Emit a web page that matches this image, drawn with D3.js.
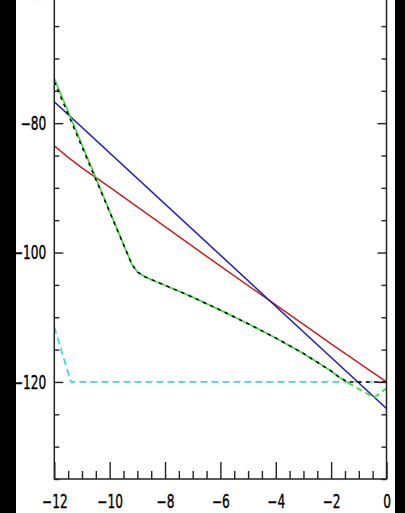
<!DOCTYPE html>
<html>
<head>
<meta charset="utf-8">
<script src="https://cdn.jsdelivr.net/npm/d3@7"></script>
<style>
html,body{margin:0;padding:0;background:#000;}
svg{display:block;}
</style>
</head>
<body>
<svg id="chart" width="405" height="513"></svg>
<script>
// ---- data ----
const xMajorTicks = [-12, -10, -8, -6, -4, -2, 0];
const yMajorTicks = [-60, -80, -100, -120];

const blueX = [-12, 0];
const blueY = [-76.7, -124.1];

const redX = [-12, -11.5, -11, -10, -8, -6, -4, -2, 0];
const redY = [-83.5, -85.3, -86.9, -89.9, -96.0, -102.1, -108.1, -114.1, -120.0];

const greenX = [-12, -9.2, -9.0, -8.7, -8.2, -7, -6, -5, -4, -3, -2, -1.7];
const greenY = [-73.1, -101.8, -103.0, -103.8, -104.7, -106.9, -108.9, -111.0, -113.2, -115.6, -118.3, -119.3];

const greenDashX = [-1.7, -1.2, -0.45, 0];
const greenDashY = [-119.3, -120.6, -122.4, -121.0];

const blackDashX = [-12, -9.2, -9.0, -8.7, -8.2, -7, -6, -5, -4, -3, -2, -1.7, -1.4, 0];
const blackDashY = [-73.6, -101.8, -103.0, -103.8, -104.7, -106.9, -108.9, -111.0, -113.2, -115.6, -118.3, -119.3, -120.0, -120.0];

const cyanX = [-12, -11.4, 0];
const cyanY = [-111.5, -120.0, -120.0];

// ---- layout ----
const svg = d3.select("#chart");
svg.append("rect").attr("x", 16).attr("y", 0).attr("width", 379).attr("height", 513).attr("fill", "#fff");

const left = 54.3, right = 386.5, bottom = 479;
const x = d3.scaleLinear().domain([-12, 0]).range([left, right]);
const y = d3.scaleLinear().domain([-135, -60]).range([bottom, bottom - 75 * 6.47]);

const xMinor = d3.range(-12, 0.001, 0.5).filter(v => !xMajorTicks.includes(v));
const yMinor = d3.range(-135, -59.9, 5).filter(v => !yMajorTicks.includes(v));

const fontFam = "'DejaVu Sans',sans-serif";
const fmt = d => d3.format("d")(d);
const squeeze = 0.64;

function styleAxis(g) {
  g.select(".domain").remove();
  g.selectAll(".tick line").attr("stroke", "#222").attr("stroke-width", 1.4);
  g.selectAll("text").attr("fill", "#000").attr("stroke", "#000").attr("stroke-width", 0.4)
    .style("font-family", fontFam).style("font-size", "19px");
}

const clip = svg.append("defs").append("clipPath").attr("id", "plotclip")
  .append("rect").attr("x", left).attr("y", y(-60)).attr("width", right - left).attr("height", bottom - y(-60));

const lineGen = d3.line().x(d => x(d[0])).y(d => y(d[1]));
const plot = svg.append("g").attr("clip-path", "url(#plotclip)");

function drawLine(xs, ys, color, width, dash) {
  const pts = xs.map((v, i) => [v, ys[i]]);
  const p = plot.append("path").datum(pts).attr("d", lineGen)
    .attr("fill", "none").attr("stroke", color).attr("stroke-width", width)
    .attr("stroke-linejoin", "round");
  if (dash) p.attr("stroke-dasharray", dash);
}

drawLine(cyanX, cyanY, "#3fd8d8", 1.8, "7,4");
drawLine(redX, redY, "#cc2020", 1.5);
drawLine(blueX, blueY, "#1c1cb8", 1.5);
drawLine(greenX, greenY, "#44dd44", 1.8);
drawLine(greenDashX, greenDashY, "#44dd44", 1.8, "6,4");
drawLine(blackDashX, blackDashY, "#000", 1.5, "3.5,4.5");

// axes
svg.append("g").attr("transform", `translate(${left},0)`)
  .call(d3.axisLeft(y).tickValues(yMinor).tickSize(-5).tickFormat("")).call(styleAxis);
const yAx = svg.append("g").attr("transform", `translate(${left},0)`)
  .call(d3.axisLeft(y).tickValues(yMajorTicks).tickSize(-9).tickPadding(8).tickFormat(fmt)).call(styleAxis);
yAx.selectAll(".tick text").attr("x", 0).attr("transform", `translate(-8,0) scale(${squeeze},1)`);

svg.append("g").attr("transform", `translate(${right},0)`)
  .call(d3.axisRight(y).tickValues(yMinor).tickSize(-5).tickFormat("")).call(styleAxis);
svg.append("g").attr("transform", `translate(${right},0)`)
  .call(d3.axisRight(y).tickValues(yMajorTicks).tickSize(-9).tickFormat("")).call(styleAxis);
svg.append("g").attr("transform", `translate(0,${bottom})`)
  .call(d3.axisBottom(x).tickValues(xMinor).tickSize(-8).tickFormat("")).call(styleAxis);
const xAx = svg.append("g").attr("transform", `translate(0,${bottom})`)
  .call(d3.axisBottom(x).tickValues(xMajorTicks).tickSize(-17).tickPadding(16).tickFormat(fmt)).call(styleAxis);
xAx.selectAll(".tick text").attr("transform", `scale(${squeeze},1)`);

// frame
svg.append("rect").attr("x", left).attr("y", y(-60)).attr("width", right - left).attr("height", bottom - y(-60))
  .attr("fill", "none").attr("stroke", "#222").attr("stroke-width", 1.5);
</script>
</body>
</html>
